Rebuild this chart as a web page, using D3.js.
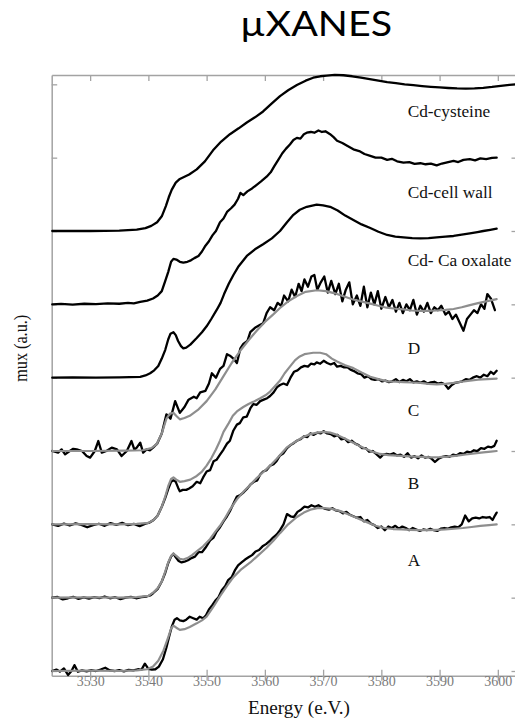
<!DOCTYPE html>
<html><head><meta charset="utf-8">
<script src="https://cdn.jsdelivr.net/npm/d3@7"></script>
<style>body{margin:0;background:#fff}svg{display:block}</style>
</head><body>
<svg id="c" width="515" height="724"></svg>
<script>
// ---- data (energy eV, normalized absorption) ----
const xTicks = [3530,3540,3550,3560,3570,3580,3590,3600];
const yTicks = [0,0.5,1,1.5,2,2.5,3,3.5,4];
const labels = ["Cd-cysteine","Cd-cell wall","Cd- Ca oxalate","D","C","B","A"];
const offsets = [3.0,2.5,2.0,1.5,1.0,0.5,0.0];

const cysteine = [[3523.5,0],[3530,0],[3535,0.003],[3538,0.01],[3539.5,0.02],[3540.5,0.035],[3541.5,0.06],[3542.3,0.10],[3543,0.17],[3543.5,0.23],[3544,0.28],[3544.7,0.33],[3545.4,0.355],[3546.2,0.37],[3547,0.385],[3548.3,0.42],[3549.7,0.475],[3551.1,0.55],[3552.5,0.61],[3554,0.66],[3555.5,0.70],[3556.9,0.74],[3558.3,0.775],[3559.7,0.815],[3561.2,0.87],[3562.6,0.92],[3564,0.96],[3565.5,0.995],[3567,1.025],[3568.3,1.045],[3569.5,1.055],[3570.6,1.06],[3572,1.064],[3573.5,1.062],[3575,1.055],[3576.5,1.045],[3578,1.035],[3579.5,1.025],[3581,1.015],[3582.5,1.008],[3584,1.0],[3585.5,0.994],[3587,0.988],[3588.5,0.983],[3590,0.979],[3591.5,0.975],[3593,0.972],[3594.5,0.971],[3596,0.972],[3597.5,0.976],[3599,0.982],[3600.5,0.99],[3602,0.996],[3603.1,1.0]];

const cellWall = [[3523.5,0],[3525,0.003],[3527,-0.002],[3529,0.004],[3531,0.002],[3533,0.006],[3535,0.004],[3536.5,0.01],[3537.5,0.007],[3538.6,0.016],[3539.8,0.025],[3540.8,0.04],[3541.6,0.06],[3542.3,0.09],[3542.9,0.16],[3543.4,0.22],[3543.9,0.29],[3544.3,0.31],[3544.8,0.305],[3545.4,0.29],[3546,0.285],[3546.7,0.29],[3547.3,0.30],[3547.9,0.315],[3548.6,0.33],[3549.2,0.36],[3549.8,0.40],[3550.4,0.43],[3551,0.47],[3551.6,0.50],[3552.3,0.56],[3552.9,0.585],[3553.5,0.63],[3554.2,0.655],[3554.8,0.68],[3555.4,0.72],[3555.8,0.76],[3556.3,0.745],[3557,0.77],[3557.8,0.79],[3558.6,0.815],[3559.4,0.84],[3560.3,0.87],[3561,0.9],[3561.6,0.94],[3562.3,0.985],[3563,1.03],[3563.6,1.06],[3564.3,1.09],[3564.9,1.12],[3565.5,1.135],[3566.1,1.13],[3566.7,1.16],[3567.2,1.17],[3567.9,1.175],[3568.5,1.17],[3569.2,1.185],[3569.8,1.175],[3570.4,1.18],[3571.2,1.16],[3571.8,1.14],[3572.4,1.115],[3573.3,1.10],[3574.2,1.08],[3575.2,1.057],[3576.2,1.045],[3577.1,1.025],[3578.1,1.012],[3579,1.0],[3580,1.0],[3581,0.985],[3581.8,0.992],[3582.7,0.975],[3583.8,0.966],[3584.8,0.97],[3585.7,0.958],[3586.7,0.962],[3587.6,0.955],[3588.5,0.96],[3589.5,0.948],[3590.4,0.96],[3591.3,0.968],[3592.4,0.978],[3593.2,0.97],[3594.1,0.985],[3595.2,0.99],[3596.1,0.982],[3597,0.995],[3598,0.99],[3599,0.998],[3599.8,1.0]];

const oxalate = [[3523.5,0],[3527,0.002],[3531,0],[3535,0.002],[3538.6,0.006],[3539.5,0.015],[3540.3,0.03],[3541,0.05],[3541.7,0.08],[3542.3,0.13],[3542.9,0.19],[3543.4,0.26],[3543.8,0.30],[3544.3,0.31],[3544.7,0.29],[3545.1,0.25],[3545.6,0.215],[3546,0.2],[3546.5,0.205],[3547.2,0.225],[3548.3,0.27],[3549.2,0.31],[3550,0.35],[3550.8,0.40],[3551.7,0.46],[3552.4,0.51],[3553,0.57],[3553.8,0.64],[3554.6,0.70],[3555.5,0.76],[3556.9,0.83],[3558.3,0.875],[3559.7,0.91],[3561.2,0.95],[3562.6,1.0],[3563.8,1.06],[3564.9,1.11],[3566,1.145],[3567.2,1.165],[3568.9,1.18],[3570,1.175],[3571.2,1.165],[3572.5,1.14],[3573.8,1.105],[3575.2,1.075],[3576.6,1.045],[3578.1,1.02],[3579.5,0.995],[3581,0.973],[3582.4,0.962],[3583.8,0.957],[3585.3,0.952],[3586.7,0.95],[3588.1,0.952],[3589.5,0.957],[3591,0.962],[3592.4,0.966],[3593.8,0.975],[3595.2,0.984],[3596.5,0.993],[3597.5,1.0],[3598.7,1.008],[3599.8,1.016]];

const dExp = [[3523.5,0],[3524.5,-0.011],[3525.1,0.011],[3525.7,-0.023],[3526.5,0],[3527.1,0.015],[3527.7,0.011],[3528.6,0],[3529.4,-0.034],[3530,-0.045],[3530.8,0],[3531.4,0.068],[3532,-0.011],[3532.8,0],[3533.7,0.023],[3534.6,0.011],[3535.4,-0.034],[3536.3,0],[3537.1,0.068],[3537.6,0.01],[3538,0.023],[3538.6,0.057],[3539.1,-0.011],[3539.7,0.011],[3540.3,0.005],[3540.8,0.023],[3541.5,0.05],[3542.3,0.12],[3543.1,0.25],[3543.8,0.22],[3544.6,0.34],[3545.4,0.26],[3546.2,0.3],[3546.9,0.35],[3547.8,0.37],[3548.3,0.36],[3548.9,0.40],[3549.8,0.41],[3550.4,0.46],[3550.9,0.53],[3551.6,0.50],[3552.3,0.56],[3552.9,0.58],[3553.5,0.66],[3554.0,0.65],[3554.6,0.63],[3555.2,0.60],[3555.8,0.70],[3556.3,0.73],[3557.0,0.75],[3557.5,0.81],[3558.3,0.84],[3559.2,0.86],[3559.7,0.87],[3560.3,0.94],[3560.9,0.98],[3561.6,0.96],[3562.2,1.01],[3562.8,0.99],[3563.3,1.06],[3564.0,1.02],[3564.6,1.10],[3565.2,1.05],[3565.8,1.14],[3566.3,1.09],[3566.8,1.17],[3567.4,1.12],[3568.0,1.19],[3568.5,1.20],[3569.0,1.10],[3569.6,1.15],[3570.2,1.19],[3570.8,1.08],[3571.4,1.16],[3572.1,1.07],[3572.7,1.14],[3573.3,1.02],[3573.9,1.10],[3574.5,1.15],[3575.1,1.00],[3575.8,1.06],[3576.4,0.99],[3577,1.12],[3577.6,0.98],[3578.2,1.08],[3578.8,1.00],[3579.4,1.09],[3580,0.97],[3580.7,1.05],[3581.3,0.98],[3581.9,1.03],[3582.5,0.95],[3583.1,1.01],[3583.7,0.94],[3584.3,1.00],[3584.9,0.96],[3585.5,1.03],[3586.1,0.93],[3586.7,0.99],[3587.3,0.95],[3587.9,1.01],[3588.5,0.94],[3589.1,0.98],[3589.7,0.96],[3590.3,0.99],[3591,0.93],[3591.6,0.95],[3592.2,0.90],[3592.8,0.93],[3593.4,0.88],[3594.1,0.82],[3594.7,0.90],[3595.3,0.93],[3595.9,0.96],[3596.5,0.94],[3597.1,1.0],[3597.7,0.97],[3598.2,1.07],[3598.8,1.04],[3599.5,0.96]];

const dFit = [[3523.5,0],[3530,0],[3536,0.002],[3539,0.005],[3540.5,0.02],[3541.4,0.045],[3542.3,0.12],[3543.1,0.22],[3543.7,0.255],[3544.3,0.26],[3544.9,0.235],[3545.4,0.216],[3546.2,0.225],[3547.1,0.24],[3548.5,0.28],[3550,0.34],[3551.5,0.42],[3552.9,0.51],[3554.3,0.60],[3555.7,0.68],[3557.2,0.755],[3558.6,0.82],[3560,0.88],[3561.4,0.93],[3562.6,0.975],[3564,1.02],[3565.5,1.057],[3567,1.085],[3568.9,1.096],[3570.5,1.09],[3572,1.075],[3573.5,1.055],[3575,1.035],[3576.5,1.02],[3578.1,1.005],[3579.5,0.99],[3580.9,0.977],[3582.4,0.97],[3583.8,0.965],[3585.2,0.958],[3586.7,0.955],[3588.1,0.955],[3589.5,0.958],[3591,0.962],[3592.4,0.968],[3593.8,0.98],[3595.2,0.995],[3596.6,1.008],[3598,1.02],[3599.8,1.035]];

const cExp = [[3523.5,0],[3524.5,-0.01],[3525.5,0.005],[3526.5,-0.008],[3527.5,0.006],[3528.5,-0.004],[3529.5,-0.02],[3530.5,-0.005],[3531.5,0.004],[3532.5,-0.01],[3533.5,0.008],[3534.5,-0.004],[3535.5,0.01],[3536.5,-0.006],[3537.5,0.003],[3538.5,-0.012],[3539.5,0.005],[3540.2,0.012],[3540.9,0.03],[3541.6,0.06],[3542.3,0.12],[3542.9,0.18],[3543.4,0.24],[3543.9,0.29],[3544.3,0.30],[3544.7,0.29],[3545.1,0.25],[3545.4,0.225],[3545.9,0.235],[3546.5,0.235],[3547,0.245],[3547.6,0.26],[3548.3,0.29],[3548.9,0.28],[3549.4,0.32],[3550,0.36],[3550.6,0.37],[3551.2,0.43],[3551.7,0.44],[3552.3,0.475],[3552.9,0.51],[3553.5,0.55],[3554,0.57],[3554.6,0.64],[3555.2,0.68],[3555.7,0.69],[3556.3,0.73],[3556.9,0.735],[3557.5,0.79],[3558,0.82],[3558.6,0.815],[3559.2,0.84],[3559.8,0.85],[3560.4,0.86],[3560.9,0.875],[3561.5,0.9],[3562.1,0.935],[3562.6,0.95],[3563.2,0.96],[3563.8,0.95],[3564.4,1.0],[3565,1.04],[3565.6,1.05],[3566.2,1.07],[3566.8,1.08],[3567.4,1.075],[3567.9,1.095],[3568.5,1.09],[3568.9,1.104],[3569.5,1.095],[3570.1,1.115],[3570.7,1.1],[3571.3,1.09],[3571.9,1.1],[3572.4,1.075],[3573,1.08],[3573.6,1.07],[3574.2,1.07],[3574.7,1.055],[3575.3,1.045],[3575.9,1.03],[3576.5,1.025],[3577.1,1.0],[3577.7,1.01],[3578.3,0.99],[3578.9,0.985],[3579.5,0.99],[3580.1,0.975],[3580.7,0.98],[3581.3,0.97],[3581.9,0.975],[3582.5,0.99],[3583.1,0.97],[3583.7,0.985],[3584.3,0.975],[3584.9,0.99],[3585.5,0.968],[3586.1,0.975],[3586.7,0.965],[3587.3,0.975],[3587.9,0.96],[3588.5,0.968],[3589.1,0.972],[3589.7,0.96],[3590.3,0.965],[3590.9,0.955],[3591.5,0.925],[3592.1,0.95],[3592.7,0.965],[3593.3,0.97],[3593.9,0.975],[3594.5,0.99],[3595.1,0.985],[3595.7,1.0],[3596.4,1.01],[3597,1.0],[3597.6,1.02],[3598.2,1.01],[3598.8,1.04],[3599.3,1.025],[3599.8,1.047]];

const cFit = [[3523.5,0],[3530,0.002],[3535,0],[3538,0.003],[3540,0.01],[3540.9,0.03],[3541.6,0.06],[3542.3,0.12],[3542.9,0.19],[3543.4,0.26],[3543.9,0.31],[3544.3,0.32],[3544.8,0.305],[3545.4,0.29],[3546.2,0.295],[3547.2,0.305],[3548.3,0.33],[3549.2,0.36],[3550,0.40],[3550.8,0.45],[3551.6,0.51],[3552.3,0.57],[3552.9,0.63],[3553.8,0.69],[3554.5,0.74],[3555.2,0.77],[3556.3,0.80],[3557.2,0.82],[3558,0.835],[3559.2,0.86],[3560.1,0.88],[3560.9,0.905],[3561.8,0.945],[3562.6,0.98],[3563.4,1.03],[3564.3,1.075],[3565.2,1.12],[3566,1.145],[3566.8,1.16],[3567.5,1.165],[3568.3,1.17],[3569.5,1.17],[3570.5,1.16],[3571.5,1.13],[3572.4,1.11],[3573.8,1.085],[3575.2,1.065],[3576.6,1.035],[3578.1,1.006],[3579.5,0.99],[3581,0.975],[3582.4,0.972],[3583.8,0.97],[3585.3,0.967],[3586.7,0.964],[3588.1,0.958],[3589.5,0.954],[3591,0.958],[3592.4,0.964],[3593.8,0.972],[3595.2,0.98],[3596.6,0.986],[3598.2,0.99],[3599.8,0.994]];

const bExp = [[3523.5,0],[3524.4,0.005],[3525.3,-0.012],[3526.2,-0.004],[3527.1,0.006],[3528,-0.008],[3528.9,0.002],[3529.8,-0.006],[3530.7,0.004],[3531.6,-0.003],[3532.5,0.008],[3533.4,-0.004],[3534.3,0.003],[3535.2,-0.01],[3536.1,0.0],[3537,0.006],[3537.9,-0.004],[3538.8,0.003],[3539.7,0.008],[3540.3,0.015],[3540.8,0.03],[3541.6,0.06],[3542.3,0.11],[3542.9,0.17],[3543.4,0.235],[3543.9,0.28],[3544.3,0.30],[3544.7,0.275],[3545.2,0.25],[3545.7,0.24],[3546.2,0.245],[3546.8,0.255],[3547.4,0.27],[3548,0.28],[3548.6,0.31],[3549.2,0.31],[3549.8,0.34],[3550.6,0.39],[3551.2,0.41],[3551.7,0.45],[3552.3,0.48],[3552.9,0.52],[3553.5,0.555],[3554,0.59],[3554.6,0.64],[3555.2,0.69],[3555.8,0.7],[3556.4,0.72],[3557,0.745],[3557.5,0.77],[3558.1,0.79],[3558.7,0.8],[3559.2,0.84],[3559.7,0.86],[3560.3,0.87],[3560.9,0.9],[3561.5,0.91],[3562,0.93],[3562.6,0.97],[3563.2,0.985],[3563.8,1.02],[3564.4,1.04],[3565,1.055],[3565.5,1.07],[3566.1,1.08],[3566.7,1.1],[3567.3,1.095],[3567.8,1.12],[3568.4,1.11],[3569,1.125],[3569.6,1.12],[3570.1,1.135],[3570.7,1.12],[3571.3,1.115],[3571.9,1.1],[3572.5,1.11],[3573.1,1.08],[3573.7,1.085],[3574.3,1.06],[3574.9,1.07],[3575.5,1.05],[3576.1,1.04],[3576.7,1.02],[3577.3,1.02],[3577.9,0.995],[3578.5,1.0],[3579.1,0.98],[3579.8,0.955],[3580.3,0.975],[3580.9,0.98],[3581.5,0.975],[3582.1,0.985],[3582.7,0.97],[3583.3,0.975],[3583.9,0.96],[3584.5,0.985],[3585.1,0.955],[3585.7,0.965],[3586.3,0.95],[3586.9,0.97],[3587.5,0.955],[3588.1,0.96],[3588.7,0.945],[3589.2,0.925],[3589.9,0.95],[3590.5,0.96],[3591.1,0.965],[3591.7,0.96],[3592.3,0.975],[3592.9,0.97],[3593.5,0.985],[3594.1,0.98],[3594.7,0.995],[3595.3,0.99],[3595.9,1.005],[3596.5,1.0],[3597.1,1.02],[3597.7,1.015],[3598.3,1.03],[3598.9,1.025],[3599.4,1.035],[3599.8,1.07]];

const bFit = [[3523.5,0],[3530,0.002],[3535,0],[3538,0.004],[3540,0.012],[3540.8,0.034],[3541.6,0.065],[3542.3,0.11],[3542.9,0.18],[3543.4,0.24],[3543.9,0.285],[3544.3,0.30],[3544.8,0.285],[3545.4,0.265],[3546,0.26],[3546.7,0.27],[3547.5,0.29],[3548.3,0.315],[3549.4,0.35],[3550.6,0.40],[3551.5,0.45],[3552.3,0.49],[3553.2,0.545],[3554,0.60],[3555.2,0.67],[3556.4,0.725],[3557.5,0.77],[3558.6,0.815],[3559.7,0.855],[3560.9,0.90],[3562,0.945],[3563,0.99],[3563.8,1.025],[3564.7,1.05],[3565.5,1.07],[3566.6,1.095],[3567.8,1.115],[3569,1.125],[3570.1,1.13],[3571.2,1.125],[3572.4,1.11],[3573.7,1.085],[3575,1.06],[3576.2,1.035],[3577.3,1.015],[3578.5,0.995],[3579.8,0.98],[3581.2,0.972],[3582.6,0.968],[3584,0.965],[3585.5,0.962],[3587,0.96],[3588.5,0.957],[3590,0.958],[3591.5,0.962],[3593,0.968],[3594.5,0.976],[3596,0.984],[3597.5,0.99],[3598.8,0.996],[3599.8,1.0]];

const aExp = [[3523.5,0],[3524.2,0.01],[3524.8,-0.004],[3525.5,0.018],[3526.2,-0.027],[3526.8,0.0],[3527.3,0.04],[3527.9,-0.005],[3528.6,0.004],[3529.4,-0.003],[3530.2,0.006],[3531,0.0],[3531.8,0.01],[3532.6,0.022],[3533.4,0.004],[3534.2,0.0],[3535,0.006],[3535.8,-0.002],[3536.6,0.008],[3537.4,0.004],[3538.2,0.012],[3538.8,0.008],[3539.4,0.05],[3540,0.015],[3540.6,0.01],[3541.2,0.012],[3541.8,0.03],[3542.5,0.08],[3543.1,0.16],[3543.6,0.24],[3544,0.30],[3544.5,0.35],[3544.9,0.36],[3545.4,0.345],[3546,0.34],[3546.5,0.35],[3547.1,0.37],[3547.7,0.36],[3548.3,0.35],[3548.8,0.37],[3549.4,0.36],[3549.9,0.38],[3550.4,0.42],[3551,0.45],[3551.5,0.48],[3552,0.5],[3552.6,0.55],[3553.2,0.58],[3553.7,0.62],[3554.3,0.64],[3554.9,0.69],[3555.4,0.72],[3556,0.74],[3556.6,0.76],[3557.2,0.775],[3557.8,0.79],[3558.4,0.815],[3559,0.825],[3559.6,0.85],[3560.2,0.865],[3560.8,0.885],[3561.4,0.91],[3562,0.93],[3562.6,0.96],[3563.2,1.0],[3563.8,1.07],[3564.4,1.055],[3565,1.05],[3565.6,1.085],[3566.2,1.1],[3566.8,1.12],[3567.4,1.115],[3568,1.13],[3568.6,1.12],[3569.2,1.13],[3569.8,1.115],[3570.4,1.105],[3571,1.1],[3571.6,1.11],[3572.2,1.095],[3572.8,1.09],[3573.4,1.075],[3574,1.085],[3574.6,1.065],[3575.2,1.055],[3575.8,1.045],[3576.4,1.05],[3577,1.02],[3577.6,1.03],[3578.2,1.005],[3578.8,0.995],[3579.4,0.975],[3580,0.985],[3580.6,0.96],[3581.2,0.985],[3581.8,0.975],[3582.4,0.99],[3583,0.97],[3583.6,0.985],[3584.2,0.975],[3584.8,0.96],[3585.4,0.975],[3586,0.965],[3586.6,0.955],[3587.2,0.965],[3587.8,0.96],[3588.4,0.97],[3589,0.96],[3589.6,0.955],[3590.2,0.97],[3590.8,0.975],[3591.4,0.97],[3592,0.98],[3592.6,0.985],[3593.2,0.98],[3593.8,1.0],[3594.4,1.06],[3595,1.02],[3595.6,1.04],[3596.2,1.045],[3596.8,1.04],[3597.4,1.05],[3598,1.045],[3598.6,1.05],[3599.1,1.03],[3599.5,1.06],[3599.8,1.08]];

const aFit = [[3523.5,0],[3530,0.002],[3535,0],[3538,0.004],[3539.8,0.012],[3540.8,0.03],[3541.7,0.07],[3542.6,0.14],[3543.4,0.23],[3543.9,0.29],[3544.3,0.31],[3544.8,0.295],[3545.4,0.28],[3546.2,0.285],[3547.1,0.30],[3548.3,0.325],[3549.2,0.345],[3550,0.37],[3551.2,0.44],[3552.3,0.51],[3553.5,0.58],[3554.6,0.64],[3556,0.695],[3557.5,0.74],[3558.9,0.79],[3560.3,0.84],[3561.5,0.89],[3562.6,0.94],[3564,1.0],[3565.5,1.05],[3566.7,1.08],[3567.8,1.10],[3569,1.11],[3570.2,1.11],[3571.5,1.105],[3573,1.09],[3574.5,1.065],[3576,1.04],[3577.5,1.015],[3579,0.99],[3580.5,0.975],[3582,0.968],[3583.5,0.965],[3585,0.962],[3586.5,0.96],[3588,0.96],[3589.5,0.962],[3591,0.965],[3592.5,0.97],[3594,0.975],[3595.5,0.982],[3597,0.99],[3598.5,0.995],[3599.8,1.0]];

const blackSeries = [cysteine, cellWall, oxalate, dExp, cExp, bExp, aExp];
const graySeries = [null, null, null, dFit, cFit, bFit, aFit];

// ---- layout ----
const L = 51.7, R = 516, T = 75, B = 675.7;
const serif = "'Liberation Serif', 'Times New Roman', 'DejaVu Serif', serif";
const svg = d3.select("#c");
const x = d3.scaleLinear().domain([3523.4, 3603.12]).range([L, R]);
const y = d3.scaleLinear().domain([-0.032, 4.0636]).range([B, T]);
const frameCol = "#a3a3a3";

svg.append("text").attr("x", 316).attr("y", 36).attr("text-anchor", "middle")
  .style("font-family", "Lato, 'Open Sans', sans-serif").style("font-size", "34.5px")
  .attr("textLength", 152).attr("lengthAdjust", "spacingAndGlyphs")
  .attr("fill", "#000").text("µXANES");

function styleAxis(g) {
  g.selectAll("path.domain").attr("stroke", frameCol).attr("stroke-width", 1.5).attr("fill", "none");
  g.selectAll(".tick line").attr("stroke", frameCol).attr("stroke-width", 1.3);
}

// bottom axis
const gb = svg.append("g").attr("transform", `translate(0,${B})`)
  .call(d3.axisBottom(x).tickValues(xTicks).tickFormat(d3.format("d")).tickSizeOuter(0));
styleAxis(gb);
gb.selectAll(".tick line").attr("y1", -6).attr("y2", 5);
gb.selectAll(".tick text").attr("y", 10).attr("dy", 0).attr("fill", "#7a7a7a")
  .style("font-family", serif).style("font-size", "14px");

// top axis
const gt = svg.append("g").attr("transform", `translate(0,${T})`)
  .call(d3.axisTop(x).tickValues(xTicks).tickSizeInner(-6).tickSizeOuter(0).tickFormat(""));
styleAxis(gt);

// left axis
const gl = svg.append("g").attr("transform", `translate(${L},0)`)
  .call(d3.axisLeft(y).tickValues(yTicks).tickSizeInner(-5.5).tickSizeOuter(0).tickFormat(""));
styleAxis(gl);

// right axis
const gr = svg.append("g").attr("transform", `translate(${R},0)`)
  .call(d3.axisRight(y).tickValues(yTicks).tickSizeInner(-4.5).tickSizeOuter(0).tickFormat(""));
styleAxis(gr);

// curves
const plot = svg.append("g");
blackSeries.forEach((s, i) => {
  const off = offsets[i];
  const line = d3.line().x(d => x(d[0])).y(d => y(d[1] + off));
  plot.append("path").attr("d", line(s)).attr("fill", "none")
    .attr("stroke", "#000").attr("stroke-width", 2.3)
    .attr("stroke-linejoin", "round").attr("stroke-linecap", "round");
  if (graySeries[i]) {
    plot.append("path").attr("d", line(graySeries[i])).attr("fill", "none")
      .attr("stroke", "#8e8e8e").attr("stroke-width", 2.2)
      .attr("stroke-linejoin", "round").attr("stroke-linecap", "round");
  }
});

// curve labels
const labelBase = [117.3, 198.3, 265.5, 354, 416, 489.3, 566];
labels.forEach((t, i) => {
  svg.append("text").attr("x", 407.7).attr("y", labelBase[i])
    .style("font-family", serif).style("font-size", "17.3px")
    .attr("fill", "#111").text(t);
});

// axis titles
svg.append("text").attr("x", 299).attr("y", 713.5).attr("text-anchor", "middle")
  .style("font-family", serif).style("font-size", "19px")
  .attr("textLength", 102).attr("lengthAdjust", "spacingAndGlyphs")
  .attr("fill", "#111").text("Energy (e.V.)");

svg.append("text").attr("transform", "translate(27,348.3) rotate(-90)")
  .attr("text-anchor", "middle")
  .style("font-family", serif).style("font-size", "19px")
  .attr("textLength", 67).attr("lengthAdjust", "spacingAndGlyphs")
  .attr("fill", "#111").text("mux (a.u.)");
</script>
</body></html>
